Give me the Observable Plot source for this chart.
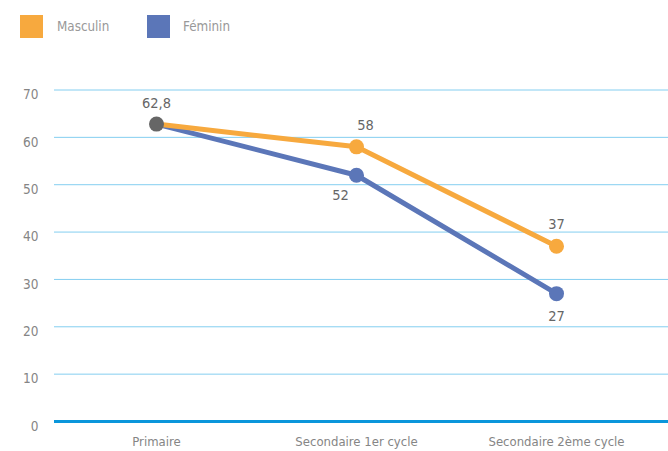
<!DOCTYPE html>
<html>
<head>
<meta charset="utf-8">
<script src="https://cdn.jsdelivr.net/npm/d3@7"></script>
<script src="https://cdn.jsdelivr.net/npm/@observablehq/plot@0.6"></script>
<style>
  html, body { margin: 0; padding: 0; background: #fff; }
  body { width: 668px; height: 451px; overflow: hidden; font-family: "DejaVu Sans Condensed", sans-serif; }
  .legend { position: relative; height: 50px; }
  .legend .sw { position: absolute; top: 15px; width: 23px; height: 23px; }
  .legend .lb { position: absolute; top: 18px; font-size: 13.3px; line-height: 17px; color: #999; }
</style>
</head>
<body>
<div class="legend" id="legend"></div>
<div id="chart"></div>
<script>
// Levels of schooling along the x axis
const categories = ["Primaire", "Secondaire 1er cycle", "Secondaire 2ème cycle"];
// Rates by sex for each level
const masculin = [62.8, 58, 37];
const feminin = [62.8, 52, 27];
const seriesNames = ["Masculin", "Féminin"];
const yTicks = [0, 10, 20, 30, 40, 50, 60, 70];

const colors = { Masculin: "#F7A93E", "Féminin": "#5B76B8" };
const fontFamily = '"DejaVu Sans Condensed", sans-serif';

// Legend
const legend = document.getElementById("legend");
[["Masculin", 20, 57], ["Féminin", 147, 183]].forEach(([name, sx, tx]) => {
  const sw = document.createElement("div");
  sw.className = "sw";
  sw.style.left = sx + "px";
  sw.style.background = colors[name];
  legend.appendChild(sw);
  const lb = document.createElement("div");
  lb.className = "lb";
  lb.style.left = tx + "px";
  lb.textContent = name;
  legend.appendChild(lb);
});

const rows = [
  ...categories.map((c, i) => ({ cat: c, serie: seriesNames[0], value: masculin[i], i })),
  ...categories.map((c, i) => ({ cat: c, serie: seriesNames[1], value: feminin[i], i }))
];
const mRows = rows.filter(d => d.serie === "Masculin");
const fRows = rows.filter(d => d.serie === "Féminin");
const fmt = v => String(v).replace(".", ",");
const lbl = { fill: "#666", fontSize: 14.5 };

const chart = Plot.plot({
  width: 668,
  height: 401,
  marginTop: 39.5,
  marginBottom: 30,
  marginLeft: 54,
  marginRight: 0,
  style: { fontFamily, fontSize: "13px", background: "#fff" },
  x: { type: "point", domain: categories, range: [55, 657], padding: 0.5, label: null },
  y: { domain: [0, 70], label: null },
  marks: [
    Plot.ruleY(yTicks.filter(t => t > 0), { stroke: "#84CEF0", strokeWidth: 1 }),
    Plot.ruleY([0], { stroke: "#0A96DB", strokeWidth: 3 }),
    Plot.axisY(yTicks, { tickSize: 0, tickPadding: 16, dy: 5, fill: "#858585", fontSize: 13.5, label: null }),
    Plot.axisX({ tickSize: 0, tickPadding: 15, fill: "#858585", fontSize: 13, label: null }),
    Plot.line(fRows, { x: "cat", y: "value", stroke: colors["Féminin"], strokeWidth: 5 }),
    Plot.line(mRows, { x: "cat", y: "value", stroke: colors.Masculin, strokeWidth: 5 }),
    Plot.dot(fRows.filter(d => d.i > 0), { x: "cat", y: "value", r: 7.5, fill: colors["Féminin"] }),
    Plot.dot(mRows.filter(d => d.i > 0), { x: "cat", y: "value", r: 7.5, fill: colors.Masculin }),
    // shared starting value for both series
    Plot.dot(mRows.filter(d => d.i === 0), { x: "cat", y: "value", r: 7.5, fill: "#666666" }),
    // value labels
    Plot.text(mRows.filter(d => d.i === 0), { x: "cat", y: "value", text: d => fmt(d.value), dy: -21, ...lbl }),
    Plot.text(mRows.filter(d => d.i === 1), { x: "cat", y: "value", text: d => fmt(d.value), dx: 9, dy: -21, ...lbl }),
    Plot.text(fRows.filter(d => d.i === 1), { x: "cat", y: "value", text: d => fmt(d.value), dx: -16, dy: 20, ...lbl }),
    Plot.text(mRows.filter(d => d.i === 2), { x: "cat", y: "value", text: d => fmt(d.value), dy: -22, ...lbl }),
    Plot.text(fRows.filter(d => d.i === 2), { x: "cat", y: "value", text: d => fmt(d.value), dy: 23, ...lbl })
  ]
});
document.getElementById("chart").appendChild(chart);
</script>
</body>
</html>
